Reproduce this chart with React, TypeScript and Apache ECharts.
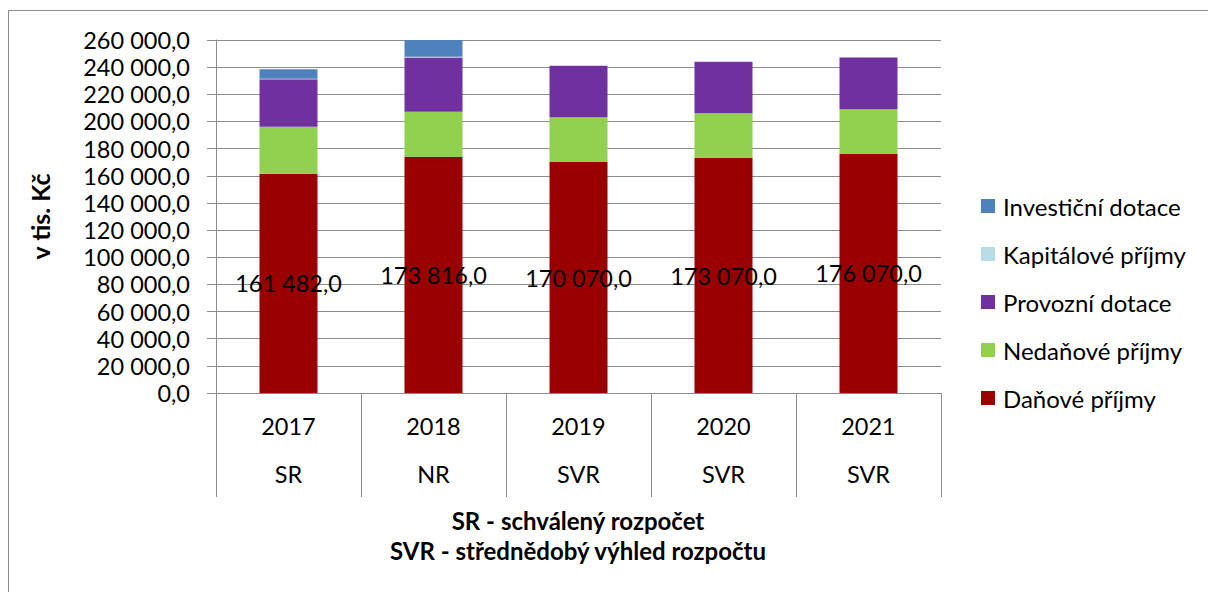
import React, { useEffect, useRef } from "react";
import * as echarts from "echarts";

const years = ["2017", "2018", "2019", "2020", "2021"];
const budgetTypes = ["SR", "NR", "SVR", "SVR", "SVR"];
const danovePrijmy = [161482, 173816, 170070, 173070, 176070];
const nedanovePrijmy = [34650, 33360, 33000, 33000, 33000];
const provozniDotace = [34900, 40020, 38000, 38000, 38000];
const kapitalovePrijmy = [500, 500, 0, 0, 0];
const investicniDotace = [6900, 15000, 0, 0, 0];

const yTicks = { min: 0, max: 260000, interval: 20000 };
const footnotes = ["SR - schválený rozpočet", "SVR - střednědobý výhled rozpočtu"];

const fmt = (v: number) =>
  Math.round(v).toString().replace(/\B(?=(\d{3})+(?!\d))/g, " ") + ",0";

const FONT = "Lato";

export default function App() {
  const ref = useRef<HTMLDivElement>(null);
  useEffect(() => {
    if (!ref.current) return;
    const chart = echarts.init(ref.current, undefined, { renderer: "svg" });
    const categories = years.map((y, i) => `${y}\n${budgetTypes[i]}`);
    const seriesDefs = [
      { name: "Daňové příjmy", data: danovePrijmy, color: "#990000", label: true },
      { name: "Nedaňové příjmy", data: nedanovePrijmy, color: "#92D050" },
      { name: "Provozní dotace", data: provozniDotace, color: "#7030A0" },
      { name: "Kapitálové příjmy", data: kapitalovePrijmy, color: "#B7DEE8" },
      { name: "Investiční dotace", data: investicniDotace, color: "#4F81BD" },
    ];
    chart.setOption({
      animation: false,
      backgroundColor: "#ffffff",
      textStyle: { fontFamily: FONT },
      grid: { left: 216, right: 267, top: 40, bottom: 199, containLabel: false },
      legend: {
        orient: "vertical",
        left: 981,
        top: 192,
        padding: 0,
        itemWidth: 14,
        itemHeight: 14,
        itemGap: 20,
        icon: "rect",
        data: seriesDefs.map((s) => s.name).reverse(),
        textStyle: { fontSize: 24, color: "#000", lineHeight: 28, padding: [0, 0, 0, 3], fontFamily: FONT },
      },
      xAxis: {
        type: "category",
        data: categories,
        axisLine: { show: true, lineStyle: { color: "#8c8c8c" } },
        axisTick: { show: true, length: 104, interval: 0, alignWithLabel: false, lineStyle: { color: "#8c8c8c" } },
        axisLabel: { interval: 0, fontSize: 23.5, color: "#000", lineHeight: 48, margin: 9, fontFamily: FONT },
      },
      yAxis: {
        type: "value",
        min: yTicks.min,
        max: yTicks.max,
        interval: yTicks.interval,
        name: "v tis. Kč",
        nameLocation: "middle",
        nameGap: 164,
        nameTextStyle: { fontSize: 25, fontWeight: "bold", color: "#000", fontFamily: FONT },
        axisLine: { show: true, lineStyle: { color: "#8c8c8c" } },
        axisTick: { show: true, length: 9, lineStyle: { color: "#8c8c8c" } },
        axisLabel: { fontSize: 23.5, color: "#000", margin: 26, formatter: fmt, fontFamily: FONT },
        splitLine: { lineStyle: { color: "#8c8c8c" } },
      },
      series: seriesDefs.map((s) => ({
        type: "bar",
        name: s.name,
        stack: "total",
        data: s.data,
        barWidth: "40%",
        itemStyle: { color: s.color },
        label: s.label
          ? {
              show: true,
              position: "inside",
              color: "#000",
              fontSize: 23.5,
              fontFamily: FONT,
              formatter: (p: any) => fmt(p.value),
            }
          : { show: false },
      })),
      graphic: [
        {
          type: "rect",
          z: -10,
          shape: { x: 8.5, y: 10.5, width: 1300, height: 700 },
          style: { fill: "none", stroke: "#8c8c8c", lineWidth: 1 },
        },
        ...footnotes.map((t, i) => ({
          type: "text",
          x: 578,
          y: 520 + i * 30,
          style: {
            text: t,
            font: `bold 24px ${FONT}`,
            fill: "#000",
            textAlign: "center",
            textVerticalAlign: "middle",
          },
        })),
      ],
    });
    return () => chart.dispose();
  }, []);
  return (
    <div
      ref={ref}
      style={{ position: "absolute", left: 0, top: 0, width: 1208, height: 592 }}
    />
  );
}
